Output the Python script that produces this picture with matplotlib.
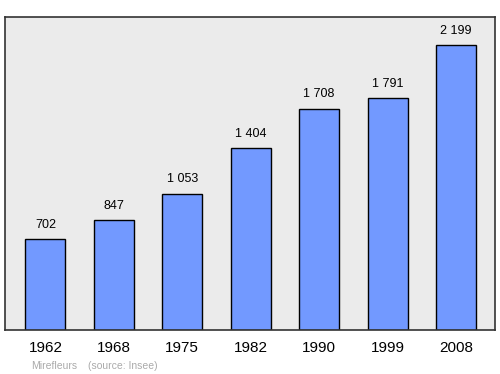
import numpy as np
import matplotlib.pyplot as plt

plt.rcParams['font.family'] = ['Liberation Sans', 'DejaVu Sans']

years = ['1962', '1968', '1975', '1982', '1990', '1999', '2008']
population = [702, 847, 1053, 1404, 1708, 1791, 2199]
value_labels = ['702', '847', '1 053', '1 404', '1 708', '1 791', '2 199']

fig = plt.figure(figsize=(5, 3.74), dpi=100)
ax = fig.add_axes([5 / 500, 1 - 330 / 374, 490 / 500, 313 / 374])
ax.set_facecolor('#ebebeb')

x = np.arange(len(years))
ax.bar(x, population, width=0.585, color='#7299ff', edgecolor='black', linewidth=1.0, zorder=2)

for xi, v, lab in zip(x, population, value_labels):
    ax.annotate(lab, (xi, v), xytext=(0, 6), textcoords='offset points',
                ha='center', va='bottom', fontsize=9, color='black')

ax.set_xlim(-0.59, 6.57)
ax.set_ylim(0, 2415)
ax.set_xticks(x)
ax.set_xticklabels(years, fontsize=11)
ax.tick_params(axis='x', length=0, pad=8)
ax.set_yticks([])
for s in ax.spines.values():
    s.set_color('#333333')
    s.set_linewidth(1.2)

fig.text(31 / 500, 1 - 366 / 374, 'Mirefleurs', fontsize=7.5, color='#aaaaaa', va='center')
fig.text(88 / 500, 1 - 366 / 374, '(source: Insee)', fontsize=7.5, color='#aaaaaa', va='center')

plt.savefig('out.png', dpi=100)
